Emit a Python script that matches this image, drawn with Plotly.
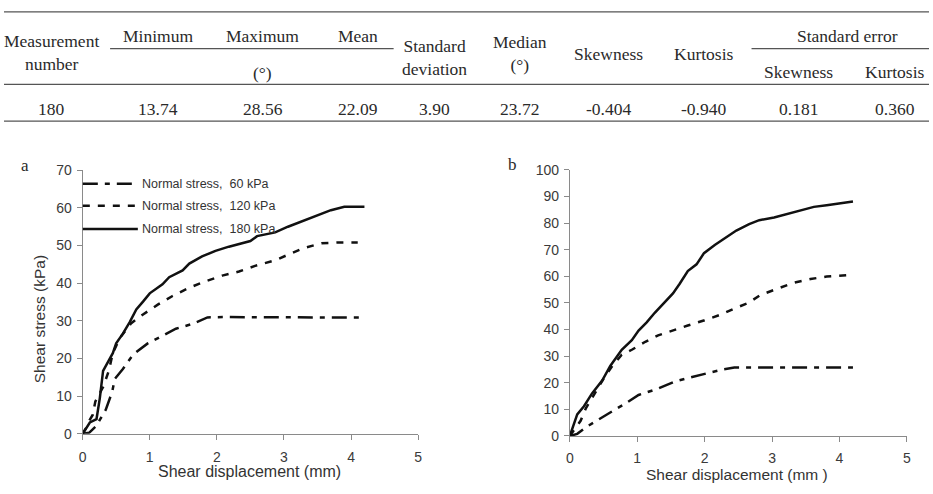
import plotly.graph_objects as go

# ---------------- data ----------------
table_header_top = ["Minimum", "Maximum", "Mean"]
table_unit = "(°)"
table_values = ["180", "13.74", "28.56", "22.09", "3.90", "23.72", "-0.404", "-0.940", "0.181", "0.360"]

series_names = ["Normal stress,  60 kPa", "Normal stress,  120 kPa", "Normal stress,  180 kPa"]

# panel a
a60_x = [0, 0.1, 0.2, 0.3, 0.345, 0.44, 0.48, 0.60, 0.75, 0.97, 1.17, 1.39, 1.64, 1.86, 2.1, 2.67, 3.2, 3.7, 4.2]
a60_y = [0, 0.3, 2.0, 5.0, 6.4, 11.1, 14.6, 17.2, 21.0, 24.0, 25.9, 27.9, 29.2, 30.9, 31.0, 30.9, 30.9, 30.9, 30.9]
a120_x = [0, 0.05, 0.1, 0.15, 0.19, 0.305, 0.39, 0.45, 0.55, 0.72, 0.90, 1.12, 1.34, 1.59, 1.83, 2.08, 2.33, 2.57, 2.87, 3.06, 3.29, 3.56, 3.8, 4.1]
a120_y = [0, 1.5, 3.5, 5.0, 8.6, 12.4, 16.7, 21.4, 25.3, 29.3, 31.7, 34.3, 36.6, 38.8, 40.5, 42.0, 43.1, 44.6, 46.1, 47.6, 49.3, 50.6, 50.8, 50.8]
a180_x = [0, 0.108, 0.207, 0.256, 0.305, 0.38, 0.45, 0.5, 0.6, 0.7, 0.8, 0.9, 1.0, 1.19, 1.29, 1.49, 1.59, 1.78, 1.98, 2.18, 2.5, 2.6, 2.87, 3.06, 3.29, 3.5, 3.7, 3.9, 4.2]
a180_y = [0, 3.0, 3.9, 9.4, 16.7, 19.3, 21.4, 24.0, 26.6, 29.6, 33.0, 35.1, 37.3, 39.7, 41.6, 43.4, 45.2, 47.1, 48.6, 49.7, 51.2, 52.5, 53.5, 55.0, 56.6, 58.1, 59.4, 60.3, 60.3]

# panel b
b60_x = [0, 0.11, 0.24, 0.43, 0.63, 0.80, 1.02, 1.31, 1.56, 1.80, 2.05, 2.29, 2.44, 3.0, 3.6, 4.2]
b60_y = [0, 0.8, 3.3, 6.3, 9.3, 11.8, 15.4, 17.8, 20.5, 22.1, 23.6, 25.1, 25.7, 25.7, 25.7, 25.7]
b120_x = [0, 0.09, 0.16, 0.24, 0.38, 0.50, 0.63, 0.77, 0.92, 1.12, 1.31, 1.51, 1.75, 2.0, 2.25, 2.44, 2.64, 2.83, 3.08, 3.32, 3.57, 3.81, 4.13]
b120_y = [0, 3.3, 5.7, 10.5, 16.6, 21.5, 26.3, 30.5, 32.4, 35.4, 37.8, 39.6, 41.5, 43.5, 45.7, 47.9, 49.9, 53.0, 55.4, 57.6, 59.0, 59.9, 60.5]
b180_x = [0, 0.11, 0.21, 0.33, 0.48, 0.60, 0.77, 0.92, 1.02, 1.14, 1.26, 1.41, 1.53, 1.63, 1.75, 1.88, 1.99, 2.15, 2.29, 2.47, 2.66, 2.81, 3.03, 3.2, 3.37, 3.62, 3.81, 4.2]
b180_y = [0, 8.1, 11.2, 16.0, 20.8, 26.3, 32.4, 36.0, 39.6, 42.7, 46.3, 50.5, 53.6, 57.2, 62.0, 64.5, 68.7, 71.8, 74.2, 77.2, 79.6, 81.1, 82.1, 83.3, 84.5, 86.1, 86.7, 88.1]

x_ticks = [0, 1, 2, 3, 4, 5]
ya_ticks = [0, 10, 20, 30, 40, 50, 60, 70]
yb_ticks = [0, 10, 20, 30, 40, 50, 60, 70, 80, 90, 100]

# ---------------- layout helpers ----------------
W, H = 933, 494
def px(x):
    return x / W
def py(y):
    return 1 - y / H

LINE = "#111111"
AX = "#8a8a8a"
TXT = "#2a2a2a"
SERIF = "Liberation Serif"
SANS = "Liberation Sans"
dashes = ["15px,7px,5px,7px", "7px,8px", "solid"]

fig = go.Figure()
panel_a = [(a60_x, a60_y), (a120_x, a120_y), (a180_x, a180_y)]
panel_b = [(b60_x, b60_y), (b120_x, b120_y), (b180_x, b180_y)]
for i, (xs, ys) in enumerate(panel_a):
    fig.add_trace(go.Scatter(x=xs, y=ys, mode="lines", name=series_names[i],
                             line=dict(color=LINE, width=2.5, dash=dashes[i]),
                             xaxis="x", yaxis="y", showlegend=False))
for i, (xs, ys) in enumerate(panel_b):
    fig.add_trace(go.Scatter(x=xs, y=ys, mode="lines", name=series_names[i],
                             line=dict(color=LINE, width=2.5, dash=dashes[i]),
                             xaxis="x2", yaxis="y2", showlegend=False))

axis_common = dict(showgrid=False, zeroline=False, showline=True, linecolor=AX, linewidth=1,
                   ticks="outside", ticklen=5, tickcolor=AX, tickwidth=1,
                   tickfont=dict(family=SANS, size=14, color="#3a3a3a"), fixedrange=True)

fig.update_layout(
    width=W, height=H, autosize=False,
    margin=dict(l=0, r=0, t=0, b=0),
    paper_bgcolor="white", plot_bgcolor="white",
    xaxis=dict(domain=[px(79.3), px(417.7)], range=[0, 5], tickvals=x_ticks, anchor="y",
               ticklabelstandoff=5, **axis_common),
    yaxis=dict(domain=[py(440), py(167.7)], range=[0, 70], tickvals=ya_ticks, anchor="x",
               ticklabelstandoff=2, **axis_common),
    xaxis2=dict(domain=[px(570.7), px(910.7)], range=[0, 5], tickvals=x_ticks, anchor="y2",
                ticklabelstandoff=4, **axis_common),
    yaxis2=dict(domain=[py(442.3), py(167.3)], range=[0, 100], tickvals=yb_ticks, anchor="x2",
                ticklabelstandoff=2, **axis_common),
)

ann = []
def text(x, y, s, size=17.5, family=SERIF, color=TXT, angle=0):
    ann.append(dict(x=px(x), y=py(y), xref="paper", yref="paper", text=s, showarrow=False,
                    xanchor="center", yanchor="middle", textangle=angle,
                    font=dict(family=family, size=size, color=color)))

# ---------------- table ----------------
shapes = []
def hline(x0, x1, y, w=1.3, c="#555555"):
    shapes.append(dict(type="line", xref="paper", yref="paper", x0=px(x0), x1=px(x1),
                       y0=py(y), y1=py(y), line=dict(color=c, width=w)))
hline(0, W, 4)
hline(107, 393, 42)
hline(754, W, 42)
hline(0, W, 79)
hline(0, W, 117)

col_x = [48, 155, 261, 357, 434, 520, 610, 706, 801, 899]
text(col_x[0], 46.5, "Measurement<br>number")
for cx, h in zip(col_x[1:4], table_header_top):
    text(cx, 29, h)
text(col_x[2], 67, table_unit)
text(col_x[4], 51.5, "Standard<br>deviation")
text(col_x[5], 47.5, "Median<br>" + table_unit)
text(col_x[6], 48, "Skewness")
text(col_x[7], 48, "Kurtosis")
text(851, 29, "Standard error")
text(col_x[8], 66, "Skewness")
text(col_x[9], 66, "Kurtosis")
for cx, v in zip(col_x, table_values):
    text(cx, 104, v)

# ---------------- panel labels & axis titles ----------------
text(20.7, 162.7, "a", size=17)
text(512.7, 161.7, "b", size=17)
text(36, 322, "Shear stress (kPa)", size=15.5, family=SANS, color="#333333", angle=-90)
text(247.6, 479, "Shear displacement (mm)", size=16, family=SANS, color="#333333")
text(739, 482, "Shear displacement (mm )", size=15.5, family=SANS, color="#333333")

# ---------------- legend (panel a) ----------------
leg_y = [181.7, 204.3, 228.3]
for i, name in enumerate(series_names):
    shapes.append(dict(type="line", xref="paper", yref="paper", x0=px(79.5), x1=px(135),
                       y0=py(leg_y[i]), y1=py(leg_y[i]),
                       line=dict(color=LINE, width=2.5, dash=dashes[i])))
    ann.append(dict(x=px(137), y=py(leg_y[i]), xref="paper", yref="paper", text=name,
                    showarrow=False, xanchor="left", yanchor="middle",
                    font=dict(family=SANS, size=12.5, color="#333333")))

fig.update_layout(annotations=ann, shapes=shapes)
fig.write_html("out.html")
